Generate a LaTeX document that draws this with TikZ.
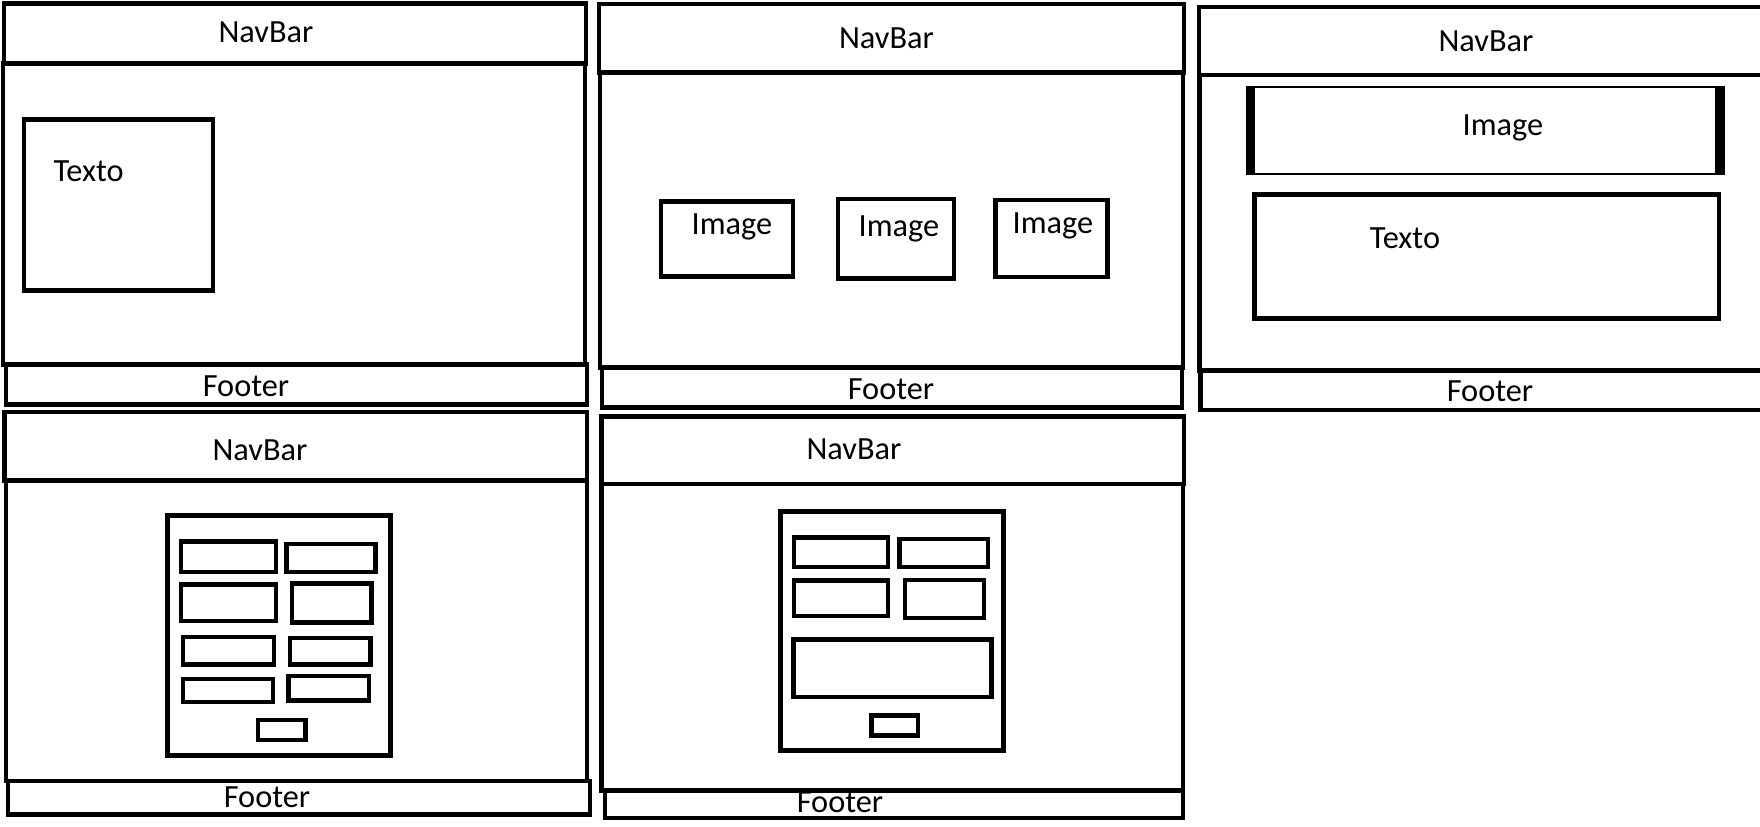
\documentclass[tikz,border=0pt]{standalone}
\usepackage{fontspec}
\setmainfont{Carlito}

\begin{document}
\begin{tikzpicture}[x=0.01cm,y=-0.01cm,
		wire/.style={line width=1.35pt},
		hair/.style={line width=0.7pt},
		lbl/.style={font=\fontsize{9.2}{11}\selectfont,anchor=base,inner sep=0pt}]
		\useasboundingbox (0,0) rectangle (1760,826);
		\clip (0,0) rectangle (1760,826);
		\draw [wire] (4,3.5) rectangle (586,63.5);
		\draw [wire] (3,63.5) rectangle (585,364.5);
		\draw [wire] (6,364.5) rectangle (587,404.5);
		\draw [wire] (24,119.5) rectangle (213,290.5);
		\node[lbl](nav1) at (266,42.5) {NavBar};
		\node[lbl](txt1) at (88.6,181.7) {Texto};
		\node[lbl](foot1) at (246,396) {Footer};
		\draw [wire] (599,4) rectangle (1184,72.5);
		\draw [wire] (600,72.5) rectangle (1183,367.5);
		\draw [wire] (602,367.5) rectangle (1182,407.5);
		\draw [wire] (661,201.5) rectangle (793,276.5);
		\draw [wire] (838,199) rectangle (954,278.5);
		\draw [wire] (995.5,200) rectangle (1107.5,277);
		\node[lbl](nav2) at (886.5,48.3) {NavBar};
		\node[lbl](img2a) at (732,234.3) {Image};
		\node[lbl](img2b) at (899,236.7) {Image};
		\node[lbl](img2c) at (1053,233.3) {Image};
		\node[lbl](foot2) at (891,399) {Footer};
		\draw [wire] (1199,7) rectangle (1775,75);
		\draw [wire] (1199.5,75) rectangle (1775,370.5);
		\draw [wire] (1200.5,370.5) rectangle (1775,410);
		\draw [hair] (1250,87) rectangle (1720,174);
		\fill (1245.5,86) rectangle (1255,175);
		\fill (1714.6,86) rectangle (1724.6,175);
		\draw [wire] (1254.5,194.5) rectangle (1719,318.5);
		\node[lbl](nav3) at (1486,51) {NavBar};
		\node[lbl](img3) at (1503,135) {Image};
		\node[lbl](txt3) at (1405,248.3) {Texto};
		\node[lbl](foot3) at (1490,401) {Footer};
		\draw [wire] (4.5,412) rectangle (587,480.5);
		\draw [wire] (6,480.5) rectangle (587,781);
		\draw [wire] (8,781) rectangle (590,814.5);
		\draw [wire] (167.5,515.5) rectangle (390.5,755.5);
		\draw [wire] (181,541.5) rectangle (276,572);
		\draw [wire] (286.5,544) rectangle (375.5,572);
		\draw [wire] (181,584.7) rectangle (276,621);
		\draw [wire] (292,583.7) rectangle (371.5,622.7);
		\draw [wire] (183,637) rectangle (274,664.5);
		\draw [wire] (290,638) rectangle (370.5,664.5);
		\draw [wire] (183,679) rectangle (273,702);
		\draw [wire] (288.5,676) rectangle (369,700.5);
		\draw [wire] (258,720) rectangle (305.5,740);
		\node[lbl](nav4) at (260,460.7) {NavBar};
		\node[lbl](foot4) at (267,807.3) {Footer};
		\draw [wire] (601.5,416.5) rectangle (1184,484);
		\draw [wire] (601.5,484) rectangle (1183,790.5);
		\draw [wire] (605,790.5) rectangle (1183,818);
		\draw [wire] (780.5,511.5) rectangle (1003.3,750.5);
		\draw [wire] (794,537.5) rectangle (888,567);
		\draw [wire] (899.5,539) rectangle (988,567);
		\draw [wire] (794,580.5) rectangle (888,616);
		\draw [wire] (905,580) rectangle (984,618);
		\draw [wire] (793.5,639.5) rectangle (991.5,697);
		\draw [wire] (871.5,715.5) rectangle (918,735.5);
		\node[lbl](nav5) at (854,459.3) {NavBar};
		\node[lbl](foot5) at (840,812.7) {Footer};
	\end{tikzpicture}
\end{document}
